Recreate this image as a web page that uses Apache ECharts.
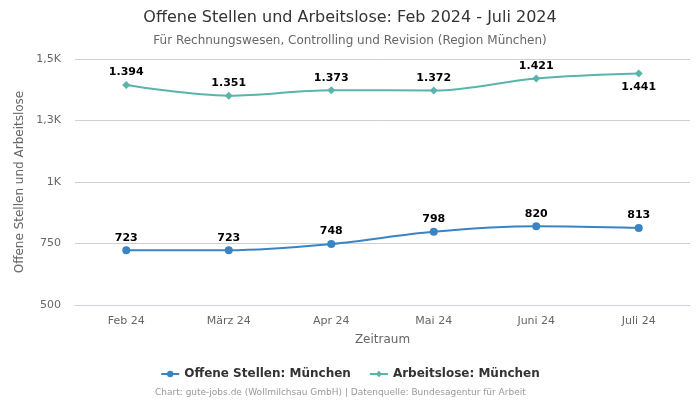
<!DOCTYPE html>
<html><head><meta charset="utf-8">
<script src="https://cdn.jsdelivr.net/npm/echarts@6/dist/echarts.min.js"></script>
<style>html,body{margin:0;padding:0;background:#fff}#c{width:700px;height:400px}</style>
</head><body><div id="c"></div>
<script>
const categories = ['Feb 24', 'März 24', 'Apr 24', 'Mai 24', 'Juni 24', 'Juli 24'];
const offeneStellen = [723, 723, 748, 798, 820, 813];
const arbeitslose = [1394, 1351, 1373, 1372, 1421, 1441];
const yTicks = [500, 750, 1000, 1250, 1500];

const fmtDE = v => String(v).replace(/\B(?=(\d{3})+(?!\d))/g, '.');
const fmtAxis = v => {
  if (v >= 1000) {
    const k = Math.round(v / 100) / 10;
    return String(k).replace('.', ',') + 'K';
  }
  return String(v);
};
const F = 'DejaVu Sans, sans-serif';
const chart = echarts.init(document.getElementById('c'), null, {renderer: 'canvas'});
chart.setOption({
  animation: false,
  title: [
    {text: 'Offene Stellen und Arbeitslose: Feb 2024 - Juli 2024', left: 'center', top: 5,
     textStyle: {fontFamily: F, fontSize: 16, fontWeight: 'normal', color: '#333'}},
    {text: 'Für Rechnungswesen, Controlling und Revision (Region München)', left: 'center', top: 30,
     textStyle: {fontFamily: F, fontSize: 12, fontWeight: 'normal', color: '#666'}},
    {text: 'Chart: gute-jobs.de (Wollmilchsau GmbH) | Datenquelle: Bundesagentur für Arbeit', left: 150, top: 383,
     textStyle: {fontFamily: F, fontSize: 9, fontWeight: 'normal', color: '#999'}}
  ],
  legend: {
    bottom: 15, left: 'center', itemWidth: 18, itemHeight: 8, itemGap: 18,
    textStyle: {fontFamily: F, fontSize: 12, fontWeight: 'bold', color: '#333'},
    data: ['Offene Stellen: München', 'Arbeitslose: München']
  },
  grid: {left: 75, right: 10, top: 59, bottom: 95},
  xAxis: {
    type: 'category', data: categories, boundaryGap: true,
    name: 'Zeitraum', nameLocation: 'middle', nameGap: 29,
    nameTextStyle: {fontFamily: F, fontSize: 12, color: '#666'},
    axisLine: {lineStyle: {color: '#ccd6eb'}},
    axisTick: {show: false},
    axisLabel: {fontFamily: F, fontSize: 11, color: '#666', margin: 11}
  },
  yAxis: {
    type: 'value', min: 500, max: 1500, interval: 250,
    name: 'Offene Stellen und Arbeitslose', nameLocation: 'middle', nameGap: 48,
    nameTextStyle: {fontFamily: F, fontSize: 12, color: '#666'},
    axisLine: {show: false}, axisTick: {show: false},
    splitLine: {lineStyle: {color: '#d0d0d0'}},
    axisLabel: {fontFamily: F, fontSize: 11, color: '#666', margin: 14,
      formatter: v => yTicks.includes(v) ? fmtAxis(v) : ''}
  },
  series: [
    {
      name: 'Offene Stellen: München', type: 'line', smooth: 0.35, data: offeneStellen,
      symbol: 'circle', symbolSize: 8, color: '#3a84c3',
      lineStyle: {width: 2},
      label: {show: true, position: 'top', distance: 3, formatter: p => fmtDE(p.value),
        fontFamily: F, fontSize: 11, fontWeight: 'bold', color: '#000'}
    },
    {
      name: 'Arbeitslose: München', type: 'line', smooth: 0.35,
      data: arbeitslose.map((v, i) => i === arbeitslose.length - 1
        ? {value: v, label: {position: 'bottom', distance: 4}} : v),
      symbol: 'diamond', symbolSize: 8, color: '#5ab4ac',
      lineStyle: {width: 2},
      label: {show: true, position: 'top', distance: 3, formatter: p => fmtDE(p.value),
        fontFamily: F, fontSize: 11, fontWeight: 'bold', color: '#000'}
    }
  ]
});
</script></body></html>
